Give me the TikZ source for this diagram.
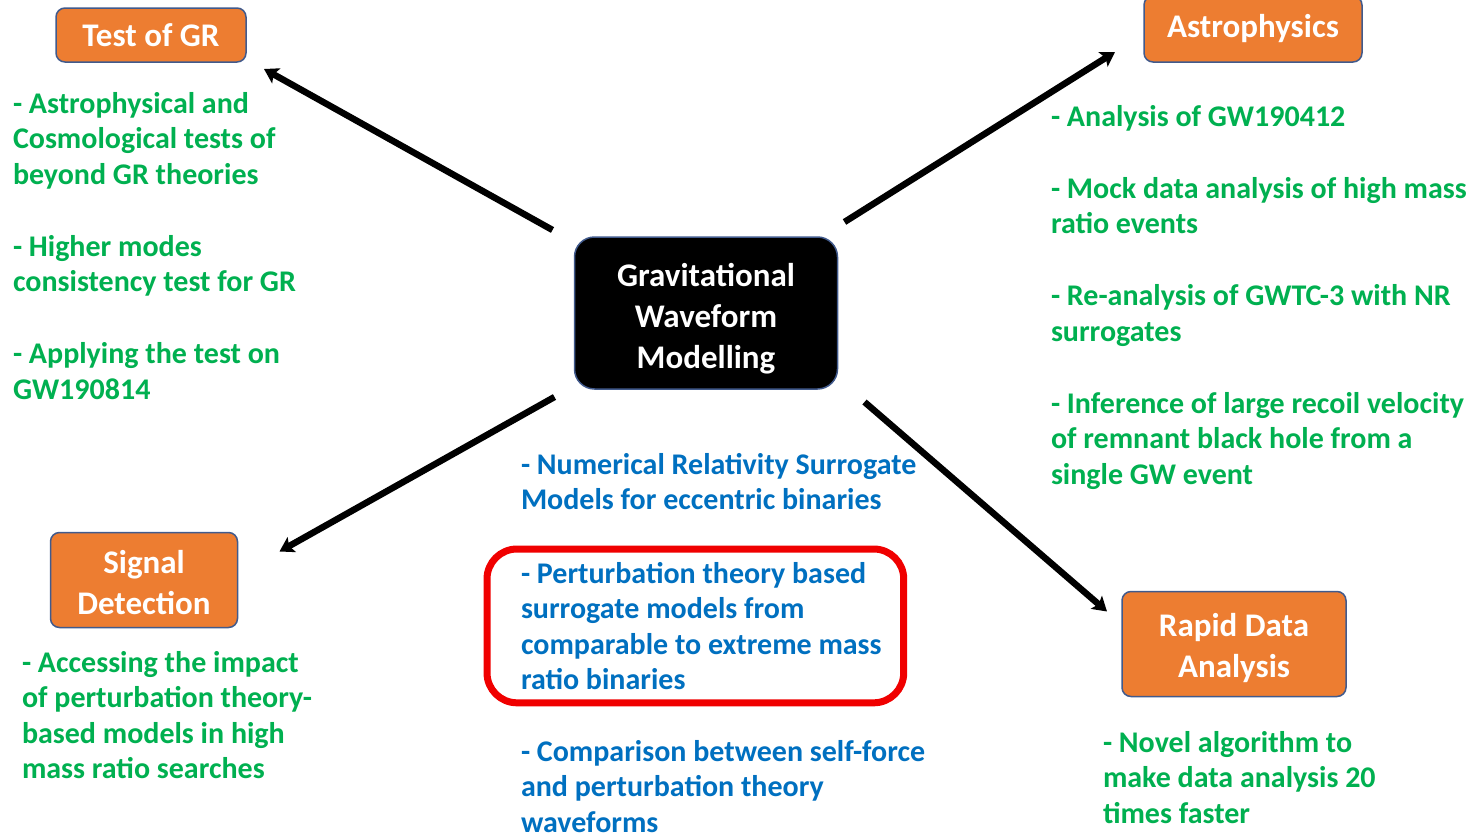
\documentclass[tikz,border=0pt]{standalone}
\usepackage{fontspec}
\setmainfont{Carlito}
\usetikzlibrary{arrows.meta, positioning}
\definecolor{gwgreen}{RGB}{0,176,80}
\definecolor{gwblue}{RGB}{0,112,192}
\definecolor{gworange}{RGB}{237,125,49}
\definecolor{gwedge}{RGB}{65,90,140}
\definecolor{gwred}{RGB}{240,0,0}
\newcommand{\bodyfnt}{\fontsize{30}{35.5}\selectfont\bfseries}
\newcommand{\boxfnt}{\fontsize{33}{41}\selectfont\bfseries}
\newcommand{\lift}[1]{\rule{0pt}{#1}}

\begin{document}
\begin{tikzpicture}[x=1pt, y=-1pt,
    every node/.style={inner sep=0pt, outer sep=0pt},
    topic/.style={draw=gwedge, fill=gworange, line width=1.5pt, rounded corners=9pt,
                  text=white, align=center, font=\boxfnt},
    core/.style={draw=gwedge, fill=black, line width=1.5pt, rounded corners=20pt,
                 text=white, align=center, font=\boxfnt},
    item/.style={anchor=north west, align=left, font=\bodyfnt},
    arr/.style={line width=6.5pt, -{Stealth[length=14pt, width=17pt, inset=3pt]}}]
  \useasboundingbox[fill=white] (0,0) rectangle (1476,835);

  % centre and topic boxes
  \node[core, minimum width=263pt, minimum height=152pt] (gwm) at (706,313)
    {\lift{34pt}Gravitational\\Waveform\\Modelling};
  \node[topic, minimum width=190pt, minimum height=54pt] (tgr) at (151,35) {Test of GR};
  \node[topic, minimum width=218pt, minimum height=66pt] (astro) at (1253,29) {Astrophysics};
  \node[topic, minimum width=187pt, minimum height=95pt] (sig) at (144,580)
    {\lift{28pt}Signal\\Detection};
  \node[topic, minimum width=224pt, minimum height=105pt] (rda) at (1234,644)
    {\lift{32pt}Rapid Data\\Analysis};

  % green items
  \node[item, text=gwgreen] (tgr-txt) at (13,92)
    {- Astrophysical and\\Cosmological tests of\\beyond GR theories\\[36.5pt]
     - Higher modes\\consistency test for GR\\[36.5pt]
     - Applying the test on\\GW190814};
  \node[item, text=gwgreen] (astro-txt) at (1051,105)
    {- Analysis of GW190412\\[36.5pt]
     - Mock data analysis of high mass\\ratio events\\[36.5pt]
     - Re-analysis of GWTC-3 with NR\\surrogates\\[36.5pt]
     - Inference of large recoil velocity\\of remnant black hole from a\\single GW event};
  \node[item, text=gwgreen] (sig-txt) at (22,651)
    {- Accessing the impact\\of perturbation theory-\\based models in high\\mass ratio searches};
  \node[item, text=gwgreen] (rda-txt) at (1103,731)
    {- Novel algorithm to\\make data analysis 20\\times faster};

  % blue items
  \node[item, text=gwblue] (nrs-txt) at (521,453)
    {- Numerical Relativity Surrogate\\Models for eccentric binaries};
  \node[item, text=gwblue] (ptb-txt) at (521,562)
    {- Perturbation theory based\\surrogate models from\\comparable to extreme mass\\ratio binaries};
  \node[item, text=gwblue] (sf-txt) at (521,740)
    {- Comparison between self-force\\and perturbation theory\\waveforms};
  \draw[gwred, line width=7pt, rounded corners=30pt]
    ([shift={(-34,-13)}]ptb-txt.north west) rectangle ([shift={(22,13)}]ptb-txt.south east);

  % arrows
  \draw[arr] ([shift={(-22,-7)}]gwm.north west) -- ([shift={(18,7)}]tgr.south east);
  \draw[arr] ([shift={(7,-15)}]gwm.north east) -- ([shift={(-29,-10)}]astro.south west);
  \draw[arr] ([shift={(-20,8)}]gwm.south west) -- ([shift={(42,19)}]sig.north east);
  \draw[arr] ([shift={(27,13)}]gwm.south east) -- ([shift={(-15,20)}]rda.north west);
\end{tikzpicture}
\end{document}
